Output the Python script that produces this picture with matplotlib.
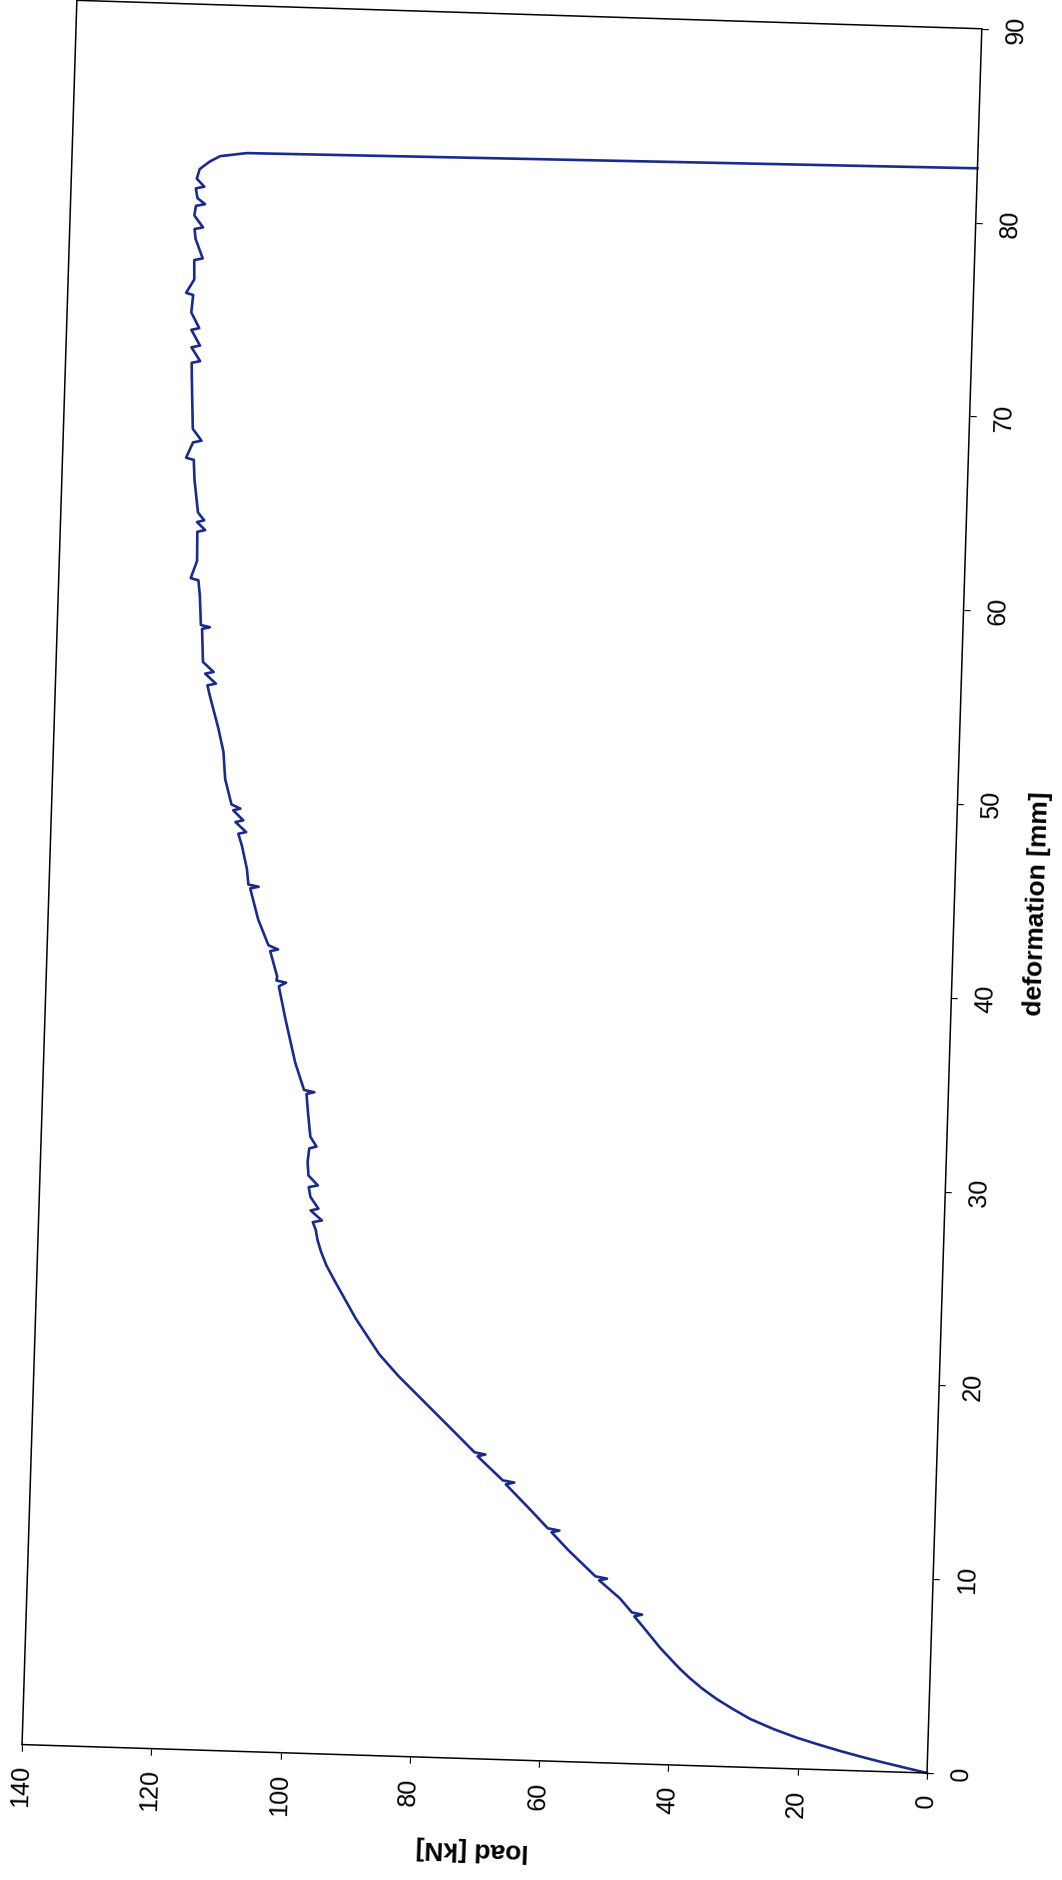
import matplotlib
matplotlib.use("Agg")
import matplotlib.pyplot as plt
import numpy as np
from matplotlib.transforms import Affine2D
from mpl_toolkits.axisartist import floating_axes
from mpl_toolkits.axisartist.grid_finder import FixedLocator

plt.rcParams["font.family"] = ["Liberation Sans", "DejaVu Sans"]

# load-deformation curve (deformation in mm, load in kN)
deformation = [
    0.0, 0.25, 0.5, 0.75, 1.0, 1.3, 1.6, 2.0, 2.5, 3.0, 3.5, 4.0, 4.5, 5.0, 6.0, 7.0,
    7.6, 7.7, 7.8, 8.5, 9.4, 9.5, 9.6, 10.9, 11.8, 11.9, 12.0, 13.0,
    14.2, 14.3, 14.4, 15.6, 15.7, 15.8, 17.0, 18.5, 19.6, 20.7, 22.5,
    23.5, 24.5, 25.2, 25.9, 26.5, 27.0, 27.4, 27.5, 28.0, 28.1, 28.7, 29.2, 29.3,
    29.8, 30.5, 31.2, 31.3, 31.8, 33.1, 34.0, 34.1, 34.2, 35.6, 36.5,
    37.8, 39.5, 39.7, 39.8, 40.0, 41.3, 41.4, 41.6, 42.9, 44.5, 44.6,
    44.7, 45.5, 46.7, 47.3, 47.4, 47.9, 48.0, 48.5, 48.6, 48.8, 50.1,
    51.5, 52.7, 54.4, 54.9, 55.0, 55.5, 55.6, 56.1, 57.8, 57.9, 58.0,
    59.5, 60.3, 60.4, 61.3, 62.8, 62.9, 63.3, 63.4, 63.8, 65.5, 66.5, 66.6,
    67.4, 67.5, 68.1, 70.7, 71.5, 71.6, 72.3, 72.4, 73.2, 73.3, 74.1,
    75.0, 75.1, 75.8, 76.8, 76.9, 77.9, 78.4, 78.5, 79.1, 79.6, 79.7,
    80.0, 80.5, 80.6, 81.0, 81.5, 81.9, 82.2, 82.4, 82.8,
]
load = [
    0.0, 3.6, 7.2, 10.5, 13.6, 17.0, 20.2, 23.8, 27.6, 30.4, 33.0, 35.2, 37.1, 38.8, 41.8, 44.4,
    46.0, 44.8, 46.4, 48.3, 51.6, 50.4, 52.2, 56.5, 59.2, 58.0, 59.8, 62.8,
    66.5, 65.2, 67.0, 71.0, 69.8, 71.5, 75.3, 80.1, 83.6, 86.7, 90.5,
    92.3, 94.1, 95.3, 96.2, 96.8, 97.1, 97.6, 96.2, 98.0, 96.8, 98.1, 98.4, 97.0,
    98.5, 98.7, 98.5, 97.4, 98.4, 98.9, 99.2, 98.0, 99.6, 101.1, 101.8,
    102.8, 104.0, 102.9, 104.4, 104.3, 105.5, 104.3, 105.8, 107.5, 108.9, 107.6,
    109.2, 109.5, 110.4, 111.0, 109.8, 111.5, 110.3, 111.9, 110.8, 112.2, 113.3,
    113.7, 114.6, 116.1, 116.5, 115.2, 116.9, 115.6, 117.3, 117.6, 116.4, 117.8,
    118.1, 118.4, 119.6, 118.7, 118.8, 117.6, 118.9, 117.8, 118.8, 119.5, 119.7, 120.9,
    119.9, 118.6, 120.0, 120.4, 120.5, 119.2, 120.6, 119.3, 120.7, 119.5, 120.8,
    120.6, 121.7, 120.5, 120.6, 119.3, 120.5, 120.7, 119.4, 120.8, 120.6, 119.2,
    120.4, 120.7, 119.4, 120.6, 120.2, 118.7, 117.1, 113.0, 0.0,
]

defo_ticks = [0, 10, 20, 30, 40, 50, 60, 70, 80, 90]
load_ticks = [0, 20, 40, 60, 80, 100, 120, 140]

# page in pixels; the chart is printed a quarter turn round and the scan is skewed
W, H = 1062, 1880
TURN = 88.2
PX_PER_MM = 19.39
PX_PER_KN = 6.467
ORIGIN = (927, H - 1773)

fig = plt.figure(figsize=(W / 100, H / 100), dpi=100)

tr = Affine2D().scale(PX_PER_MM, PX_PER_KN).rotate_deg(TURN).translate(*ORIGIN)
grid_helper = floating_axes.GridHelperCurveLinear(
    tr,
    extremes=(0, 90, 0, 140),
    grid_locator1=FixedLocator(defo_ticks),
    grid_locator2=FixedLocator(load_ticks),
)
ax = fig.add_axes([0, 0, 1, 1], axes_class=floating_axes.FloatingAxes,
                  grid_helper=grid_helper)
ax.set_xlim(0, W)
ax.set_ylim(0, H)

for side in ["left", "right", "bottom", "top"]:
    ax.axis[side].line.set_linewidth(1.1)
    ax.axis[side].major_ticklabels.set_visible(False)
    ax.axis[side].major_ticks.set_ticksize(4.5)
    ax.axis[side].major_ticks.set_tick_out(True)
for side in ["right", "top"]:
    ax.axis[side].major_ticks.set_visible(False)

aux = ax.get_aux_axes(tr)
aux.plot(deformation, load, color="#1a2b8f", lw=1.9, solid_joinstyle="round")

# outward directions (screen) of the two axes
a = np.deg2rad(TURN)
out_load = np.array([np.cos(a + np.pi), np.sin(a + np.pi)])
out_defo = np.array([np.cos(a - np.pi / 2), np.sin(a - np.pi / 2)])

for v in load_ticks:
    aux.annotate(str(v), xy=(0, v), xytext=tuple(15 * out_load),
                 textcoords="offset points", rotation=TURN, rotation_mode="anchor",
                 ha="right", va="center", fontsize=18, annotation_clip=False)
for v in defo_ticks:
    aux.annotate(str(v), xy=(v, 0), xytext=tuple(16 * out_defo),
                 textcoords="offset points", rotation=TURN, rotation_mode="anchor",
                 ha="center", va="top", fontsize=18, annotation_clip=False)

aux.annotate("load [kN]", xy=(0, 70), xytext=tuple(65.5 * out_load),
             textcoords="offset points", rotation=TURN + 90, rotation_mode="anchor",
             ha="center", va="center", fontsize=19, fontweight="bold",
             annotation_clip=False)
aux.annotate("deformation [mm]", xy=(45, 0), xytext=tuple(60 * out_defo),
             textcoords="offset points", rotation=TURN, rotation_mode="anchor",
             ha="center", va="center", fontsize=19, fontweight="bold",
             annotation_clip=False)

fig.savefig("out.png", dpi=100, facecolor="white")
